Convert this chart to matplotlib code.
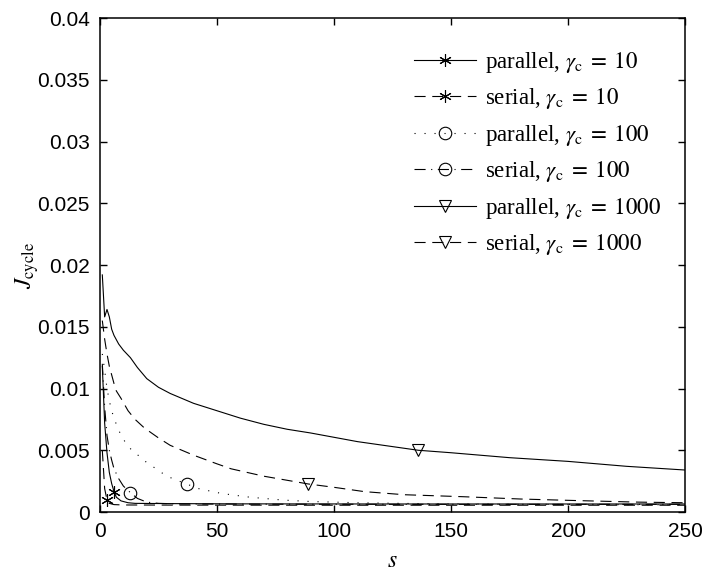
import matplotlib
matplotlib.use("Agg")
import matplotlib.pyplot as plt

plt.rcParams["font.family"] = "Liberation Sans"
plt.rcParams["mathtext.fontset"] = "stix"

# =========================
# DATA
# =========================
s_par10 = [1, 2, 3, 4, 5, 6, 7, 9, 12, 15, 30, 60, 120, 250]
J_par10 = [0.0118, 0.0072, 0.0048, 0.0032, 0.0023, 0.00165, 0.0012, 0.0009,
           0.00075, 0.0007, 0.00068, 0.00066, 0.00065, 0.00065]

s_ser10 = [1, 2, 3, 4, 6, 10, 30, 100, 250]
J_ser10 = [0.0050, 0.0019, 0.00097, 0.0007, 0.0006, 0.00057, 0.00056,
           0.00055, 0.00055]

s_par100 = [1, 2, 3, 4, 5, 6, 7, 9, 11, 14, 17, 20, 24, 27, 31, 37, 42, 52,
            64, 78, 90, 110, 140, 180, 250]
J_par100 = [0.0128, 0.0115, 0.0100, 0.0090, 0.0082, 0.0076, 0.0071, 0.0062,
            0.0056, 0.0049, 0.0045, 0.0040, 0.0035, 0.0031, 0.0027, 0.00227,
            0.0019, 0.0015, 0.0012, 0.00097, 0.00085, 0.00075, 0.00067,
            0.00062, 0.00058]

s_ser100 = [1, 2, 3, 4, 5, 6, 8, 10, 13, 16, 20, 25, 35, 80, 150, 250]
J_ser100 = [0.0120, 0.0085, 0.0062, 0.0050, 0.0042, 0.0035, 0.0027, 0.0021,
            0.00157, 0.0011, 0.0008, 0.0007, 0.00065, 0.00063, 0.00062,
            0.00062]

s_par1000 = [1, 2, 3, 4, 5, 6, 8, 10, 13, 16, 20, 25, 30, 40, 50, 60, 70, 80,
             90, 110, 136, 150, 175, 200, 225, 250]
J_par1000 = [0.0192, 0.0158, 0.0164, 0.0158, 0.0148, 0.0143, 0.0136, 0.0131,
             0.0125, 0.0117, 0.0108, 0.0101, 0.0096, 0.0088, 0.0082, 0.0076,
             0.0071, 0.0067, 0.0064, 0.0057, 0.0050, 0.0048, 0.0044, 0.0041,
             0.0037, 0.0034]

s_ser1000 = [1, 2, 3, 4, 5, 6, 7, 9, 12, 15, 19, 25, 30, 40, 50, 56, 70, 89,
             100, 113, 130, 155, 180, 205, 230, 250]
J_ser1000 = [0.0155, 0.0140, 0.0128, 0.0118, 0.0111, 0.0104, 0.0098, 0.0092,
             0.0082, 0.0075, 0.0068, 0.0060, 0.0054, 0.0046, 0.0039, 0.0035,
             0.0029, 0.00227, 0.0020, 0.00165, 0.0014, 0.00124, 0.00105,
             0.00092, 0.0008, 0.00075]

labels = [
    r"parallel, $\gamma_{\rm c}\;=\;10$",
    r"serial, $\gamma_{\rm c}\;=\;10$",
    r"parallel, $\gamma_{\rm c}\;=\;100$",
    r"serial, $\gamma_{\rm c}\;=\;100$",
    r"parallel, $\gamma_{\rm c}\;=\;1000$",
    r"serial, $\gamma_{\rm c}\;=\;1000$",
]

# s value where each curve carries its marker
mark_s = [6, 3, 37, 13, 136, 89]

x_ticks = [0, 50, 100, 150, 200, 250]
y_ticks = [0, 0.005, 0.01, 0.015, 0.02, 0.025, 0.03, 0.035, 0.04]
y_tick_labels = ["0", "0.005", "0.01", "0.015", "0.02", "0.025", "0.03",
                 "0.035", "0.04"]

# =========================
# PLOT
# =========================
series = [
    (s_par10, J_par10),
    (s_ser10, J_ser10),
    (s_par100, J_par100),
    (s_ser100, J_ser100),
    (s_par1000, J_par1000),
    (s_ser1000, J_ser1000),
]

dash_styles = [
    "-",
    (0, (10, 6)),
    (0, (1, 8)),
    (0, (10, 5, 1, 5)),
    "-",
    (0, (10, 6)),
]

star = (6, 2, 0)
markers = [star, star, "o", "o", "v", "v"]

fig = plt.figure(figsize=(7.07, 5.74), dpi=100)
ax = fig.add_axes([0.1414, 0.108, 0.8275, 0.8606])

for (s, J), ls, mk, ms, label in zip(series, dash_styles, markers, mark_s, labels):
    ax.plot(
        s,
        J,
        color="black",
        linestyle=ls,
        linewidth=0.8,
        marker=mk,
        markersize=9,
        markerfacecolor="none",
        markeredgecolor="black",
        markeredgewidth=0.8,
        markevery=[s.index(ms)],
        label=label
    )

ax.set_xlim(0, 250)
ax.set_ylim(0, 0.04)

ax.set_xticks(x_ticks)
ax.set_yticks(y_ticks)
ax.set_yticklabels(y_tick_labels)

ax.tick_params(
    direction="in",
    top=True,
    right=True,
    length=5,
    width=1.0,
    labelsize=15,
    pad=7.5
)

for spine in ax.spines.values():
    spine.set_linewidth(1.1)

ax.set_xlabel(r"$s$", fontsize=17, labelpad=6)
ax.set_ylabel(r"$J_{\rm cycle}$", fontsize=17)
ax.yaxis.set_label_coords(-0.1, 0.5)

ax.legend(
    loc="upper right",
    bbox_to_anchor=(0.995, 0.977),
    frameon=False,
    prop={"family": "Liberation Serif", "size": 16.5},
    handlelength=2.7,
    handletextpad=0.4,
    labelspacing=0.5,
    numpoints=1
)

fig.savefig("out.png", dpi=100)
